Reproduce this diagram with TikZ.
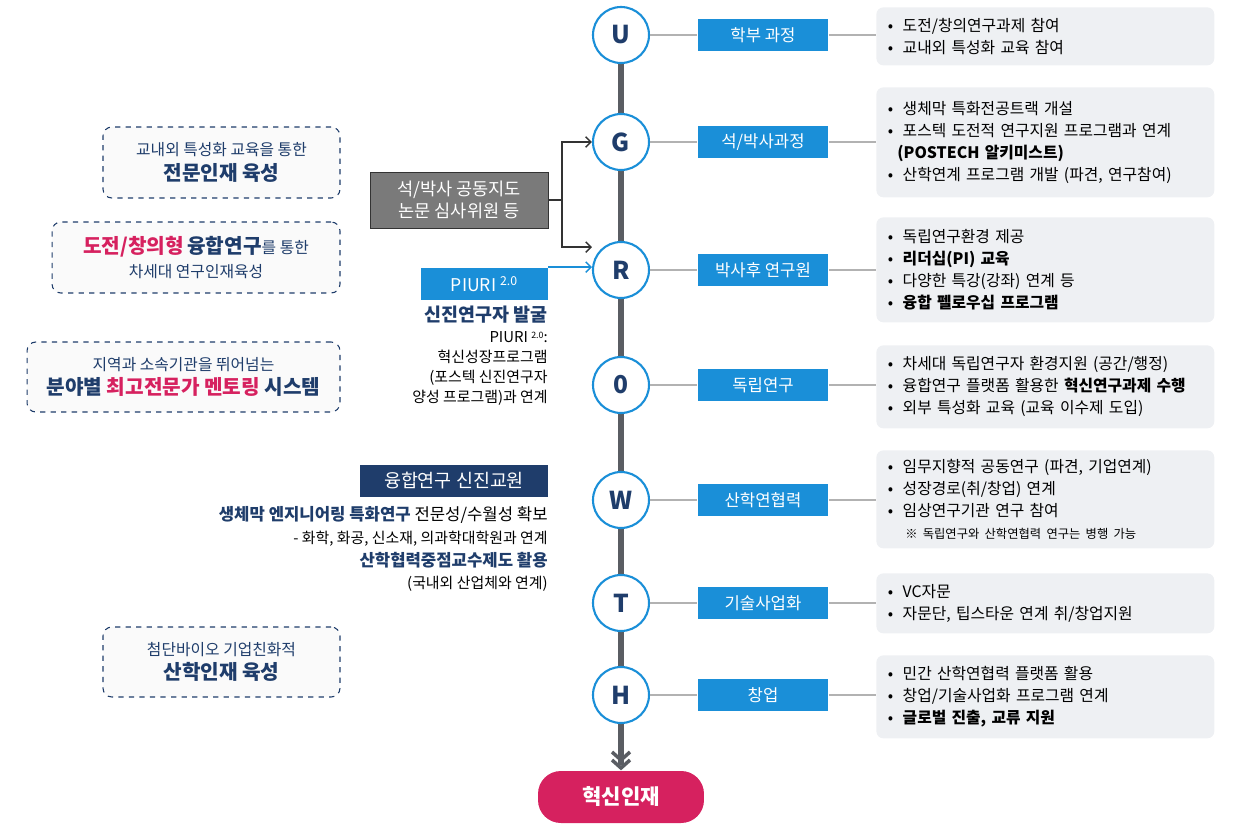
\documentclass[tikz,border=0pt]{standalone}
\usepackage{fontspec}
\setmainfont{Noto Sans CJK KR}
\usetikzlibrary{arrows.meta,positioning}
\definecolor{navy}{HTML}{1F3D6B}
\definecolor{sky}{HTML}{1A8FD8}
\definecolor{crim}{HTML}{D6215F}
\definecolor{pale}{HTML}{EEF0F3}
\definecolor{spine}{HTML}{5A5D63}
\tikzset{
  stage/.style={circle, draw=sky, line width=1.2pt, fill=white, minimum size=1.12cm,
    inner sep=0pt, text=navy, font=\fontsize{14}{14}\selectfont\bfseries},
  tag/.style={rectangle, fill=sky, minimum width=2.62cm, minimum height=0.64cm,
    text=white, font=\fontsize{9.5}{9.5}\selectfont},
  info/.style={rectangle, rounded corners=4pt, fill=pale, minimum width=6.76cm,
    text width=6.3cm, align=left, font=\fontsize{9}{12.5}\selectfont, anchor=north west},
  goal/.style={rectangle, rounded corners=5pt, draw=navy, dashed, line width=0.6pt,
    fill=gray!4, align=center, text=navy, font=\fontsize{9}{14}\selectfont},
  link/.style={draw=gray!60, line width=0.8pt}
}
\newcommand{\itm}[1]{\textbullet\hspace{0.6em}#1\par}
\begin{document}
\begin{tikzpicture}[x=0.02cm,y=-0.02cm]
\useasboundingbox (0,0) rectangle (1240,827);
% spine
\draw[spine, line width=3pt] (621,35) -- (621,765);
\draw[spine, line width=2pt] (612,752) -- (621,760) -- (630,752);
\draw[spine, line width=2pt] (612,760) -- (621,768) -- (630,760);
\node[rectangle, rounded corners=13pt, fill=crim, minimum width=3.32cm, minimum height=1.04cm,
  text=white, font=\fontsize{12}{12}\selectfont\bfseries] (goal) at (621,797) {혁신인재};

% stages, tags and info boxes
\foreach \n/\l/\y/\t in {u/U/35/{학부 과정}, g/G/142/{석/박사과정}, r/R/270/{박사후 연구원},
  o/0/385/{독립연구}, w/W/500/{산학연협력}, t/T/603/{기술사업화}, h/H/695/{창업}}{
  \node[stage] (\n) at (621,\y) {\l};
  \node[tag] (\n tag) at (763,\y) {\t};
  \coordinate (\n end) at (876,\y);
  \draw[link] (\n) -- (\n tag) -- (\n end);
}
\node[info, minimum height=1.16cm] (uinfo) at (876,7) {\itm{도전/창의연구과제 참여}\itm{교내외 특성화 교육 참여}};
\node[info, minimum height=2.2cm] (ginfo) at (876,87) {\itm{생체막 특화전공트랙 개설}\itm{포스텍 도전적 연구지원 프로그램과 연계}\hspace{0.6em}\textbf{(POSTECH 알키미스트)}\par\itm{산학연계 프로그램 개발 (파견, 연구참여)}};
\node[info, minimum height=2.1cm] (rinfo) at (876,217) {\itm{독립연구환경 제공}\itm{\textbf{리더십(PI) 교육}}\itm{다양한 특강(강좌) 연계 등}\itm{\textbf{융합 펠로우십 프로그램}}};
\node[info, minimum height=1.66cm] (oinfo) at (876,345) {\itm{차세대 독립연구자 환경지원 (공간/행정)}\itm{융합연구 플랫폼 활용한 \textbf{혁신연구과제 수행}}\itm{외부 특성화 교육 (교육 이수제 도입)}};
\node[info, minimum height=1.96cm] (winfo) at (876,450) {\itm{임무지향적 공동연구 (파견, 기업연계)}\itm{성장경로(취/창업) 연계}\itm{임상연구기관 연구 참여}\hspace{1.1em}{\fontsize{7}{9}\selectfont ※ 독립연구와 산학연협력 연구는 병행 가능}\par};
\node[info, minimum height=1.2cm] (tinfo) at (876,573) {\itm{VC자문}\itm{자문단, 팁스타운 연계 취/창업지원}};
\node[info, minimum height=1.66cm] (hinfo) at (876,655) {\itm{민간 산학연협력 플랫폼 활용}\itm{창업/기술사업화 프로그램 연계}\itm{\textbf{글로벌 진출, 교류 지원}}};

% left goals
\node[goal, minimum width=4.74cm, minimum height=1.42cm] (edu) at (221.5,162.5) {교내외 특성화 교육을 통한\\{\fontsize{11.5}{11.5}\selectfont\bfseries 전문인재 육성}};
\node[goal, minimum width=5.76cm, minimum height=1.42cm] (fusion) at (196,257.5) {{\fontsize{11.5}{11.5}\selectfont\bfseries\color{crim}도전/창의형} {\fontsize{11.5}{11.5}\selectfont\bfseries 융합연구}를 통한\\차세대 연구인재육성};
\node[goal, minimum width=6.26cm, minimum height=1.4cm] (mentor) at (183.5,377) {지역과 소속기관을 뛰어넘는\\{\fontsize{11.5}{11.5}\selectfont\bfseries 분야별 {\color{crim}최고전문가 멘토링} 시스템}};
\node[goal, minimum width=4.74cm, minimum height=1.4cm] (ind) at (221.5,662) {첨단바이오 기업친화적\\{\fontsize{11.5}{11.5}\selectfont\bfseries 산학인재 육성}};

% joint supervision
\node[rectangle, draw=black!80, fill=black!52, minimum width=3.56cm, minimum height=1.12cm,
  align=center, text=white, font=\fontsize{10}{13}\selectfont] (joint) at (459,200) {석/박사 공동지도\\논문 심사위원 등};
\coordinate (fork) at (562,200);
\draw[black!80, line width=0.8pt, -{Straight Barb[length=3pt]}] (joint) -- (fork) |- (g);
\draw[black!80, line width=0.8pt, -{Straight Barb[length=3pt]}] (fork) |- ([yshift=13pt]r.west);

% PIURI
\node[rectangle, fill=sky, minimum width=2.54cm, minimum height=0.66cm, text=white,
  font=\fontsize{10}{10}\selectfont] (piuri) at (484.5,284) {PIURI \textsuperscript{2.0}};
\draw[sky, line width=0.8pt, -{Straight Barb[length=3pt]}] (piuri.north east) -- (r.west |- piuri.north east);
\node[anchor=north east, align=right, font=\fontsize{8.5}{11.5}\selectfont, inner sep=0pt] (piuritxt) at (548,306)
  {{\fontsize{10.5}{12}\selectfont\bfseries\color{navy}신진연구자 발굴}\\PIURI {\fontsize{5}{5}\selectfont\raisebox{0.8ex}{2.0}}:\\혁신성장프로그램\\(포스텍 신진연구자\\양성 프로그램)과 연계};

% new faculty
\node[rectangle, fill=navy, minimum width=3.76cm, minimum height=0.64cm, text=white,
  font=\fontsize{10.5}{10.5}\selectfont] (faculty) at (454,481) {융합연구 신진교원};
\node[anchor=north east, align=right, font=\fontsize{9.5}{13}\selectfont, inner sep=0pt] (facultytxt) at (548,506)
  {{\bfseries\color{navy}생체막 엔지니어링 특화연구} 전문성/수월성 확보\\{\fontsize{8.5}{11}\selectfont - 화학, 화공, 신소재, 의과학대학원과 연계}\\{\bfseries\color{navy}산학협력중점교수제도 활용}\\{\fontsize{8.5}{11}\selectfont(국내외 산업체와 연계)}};
\end{tikzpicture}
\end{document}
